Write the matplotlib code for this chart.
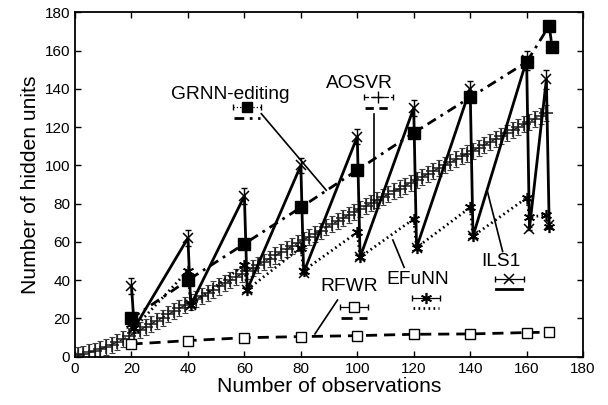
import matplotlib
matplotlib.use("Agg")
import matplotlib.pyplot as plt

plt.rcParams['font.family'] = ['Liberation Sans', 'DejaVu Sans']

# AOSVR: one model per observation (odd observations)
aosvr_x = list(range(1, 168, 2))
aosvr_y = [0.8, 1.4, 2.2, 3.0, 4.0, 5.1, 6.3, 7.7, 9.1, 10.7,
           12.3, 13.9, 15.6, 17.2, 18.8, 20.4, 22.1, 23.7, 25.3, 26.9,
           28.6, 30.2, 31.8, 33.4, 35.1, 36.7, 38.3, 39.9, 41.6, 43.2,
           44.8, 46.4, 48.1, 49.7, 51.3, 52.9, 54.6, 56.2, 57.8, 59.4,
           61.1, 62.7, 64.3, 65.9, 67.6, 69.2, 70.8, 72.4, 74.1, 75.7,
           77.3, 78.8, 80.3, 81.8, 83.4, 84.9, 86.4, 87.9, 89.4, 91.0,
           92.5, 94.0, 95.5, 97.0, 98.6, 100.1, 101.6, 103.1, 104.7, 106.2,
           107.7, 109.2, 110.7, 112.3, 113.8, 115.3, 116.8, 118.3, 119.9, 121.4,
           122.9, 124.4, 125.9, 127.5]

# ILS1 and EFuNN grow then get pruned right after each block of 20
ils1_x = [20, 21, 40, 41, 60, 61, 80, 81, 100, 101, 120, 121, 140, 141, 160, 161, 167, 168]
ils1_y = [37, 15, 62, 27, 84, 35, 100, 44, 115, 52, 130, 57, 140, 63, 155, 67, 145, 69]
ils1_err = [4, 1, 4, 1, 4, 1, 4, 1, 4, 1, 4, 1, 4, 1, 5, 1, 5, 1]

efunn_x = [20, 21, 40, 41, 60, 61, 80, 81, 100, 101, 120, 121, 140, 141, 160, 161, 167, 168]
efunn_y = [17, 15, 45, 27, 48, 35, 57, 45, 65, 52, 72, 57, 78, 63, 83, 73, 74, 68]

grnn_x = [20, 40, 60, 80, 100, 120, 140, 160, 168, 169]
grnn_y = [20, 40, 59, 78, 97.5, 117, 135.5, 154, 173, 162]

rfwr_x = [20, 40, 60, 80, 100, 120, 140, 160, 168]
rfwr_y = [6.6, 8.4, 9.9, 10.5, 11, 11.7, 11.9, 12.6, 12.8]

ticks = list(range(0, 181, 20))

fig = plt.figure(figsize=(6.08, 4.05), dpi=100)
ax = fig.add_axes([0.1234, 0.1193, 0.8356, 0.8503])

dashdot = (0, (3.5, 2, 1, 2))
dashed = (0, (4, 2.5))
thin_dash = (0, (5, 3))
dotted = (0, (0.6, 1.2))
star = (6, 2, 0)

# AOSVR band: crosses plus error bars packed tightly
ax.errorbar(aosvr_x, aosvr_y, yerr=4.2, fmt='none', ecolor='0.25',
            elinewidth=0.9, capsize=2.5, capthick=0.8)
ax.plot(aosvr_x, aosvr_y, color='0.1', lw=1, linestyle=thin_dash,
        marker='+', ms=10, mew=1.1)

# RFWR
ax.plot(rfwr_x, rfwr_y, color='black', lw=2, linestyle=dashed,
        marker='s', ms=6.5, mfc='white', mew=1)

# EFuNN
ax.plot(efunn_x, efunn_y, color='black', lw=2, linestyle=dotted,
        marker=star, ms=8, mew=1.2)

# ILS1
ax.errorbar(ils1_x, ils1_y, yerr=ils1_err, fmt='none', ecolor='black',
            elinewidth=1, capsize=2)
ax.plot(ils1_x, ils1_y, color='black', lw=2, marker='x', ms=7.5, mew=1.1)

# GRNN-editing
ax.plot(grnn_x, grnn_y, color='black', lw=2, linestyle=dashdot,
        marker='s', ms=8.5, mfc='black')

# labels with key samples and leader lines
keys = [
    ("GRNN-editing", (54.9, 136.8), (60.8, 130.4), 124.8, dict(marker='s', ms=7.5, mfc='black'), dashdot, ':', ((66, 127), (89, 87))),
    ("AOSVR", (100.7, 142.9), (107.5, 135.6), 130.2, dict(marker='+', ms=8, mew=1), (0, (3, 2)), '--', ((106, 127), (106, 77))),
    ("RFWR", (97.2, 36.6), (98.9, 25.8), 20.4, dict(marker='s', ms=6.5, mfc='white'), dashed, '-', ((93, 29.6), (85, 11.9))),
    ("EFuNN", (121.4, 40.1), (124.4, 30.9), 25.3, dict(marker=star, ms=8, mew=1.2), dotted, '-', ((116.6, 46.7), (112.6, 61))),
    ("ILS1", (151, 49.7), (153.9, 40.6), 35.2, dict(marker='x', ms=7.5, mew=1.1), '-', '-', ((151.5, 55), (146, 87))),
]
for name, tpos, mpos, ly, mstyle, ls, els, leader in keys:
    ax.text(tpos[0], tpos[1], name, fontsize=13.8, ha='center', va='center')
    eb = ax.errorbar(mpos[0], mpos[1], xerr=5, fmt='none', ecolor='black',
                     elinewidth=0.9, capsize=2.5)
    eb[2][0].set_linestyle(els)
    ax.plot([mpos[0]], [mpos[1]], color='black', mfc=mstyle.pop('mfc', 'black'),
            linestyle='none', **mstyle)
    ax.plot([mpos[0] - 4.6, mpos[0] + 4.6], [ly, ly], color='black', lw=2,
            linestyle=ls)
    ax.plot([leader[0][0], leader[1][0]], [leader[0][1], leader[1][1]],
            color='black', lw=1.2)

ax.set_xlim(0, 180)
ax.set_ylim(0, 180)
ax.set_xticks(ticks)
ax.set_yticks(ticks)
ax.tick_params(direction='in', top=True, right=True, length=4, width=1,
               labelsize=11)
for s in ax.spines.values():
    s.set_linewidth(1.3)
ax.set_xlabel("Number of observations", fontsize=15.2, labelpad=1)
ax.set_ylabel("Number of hidden units", fontsize=15.2, labelpad=3)

fig.savefig("out.png", dpi=100)
